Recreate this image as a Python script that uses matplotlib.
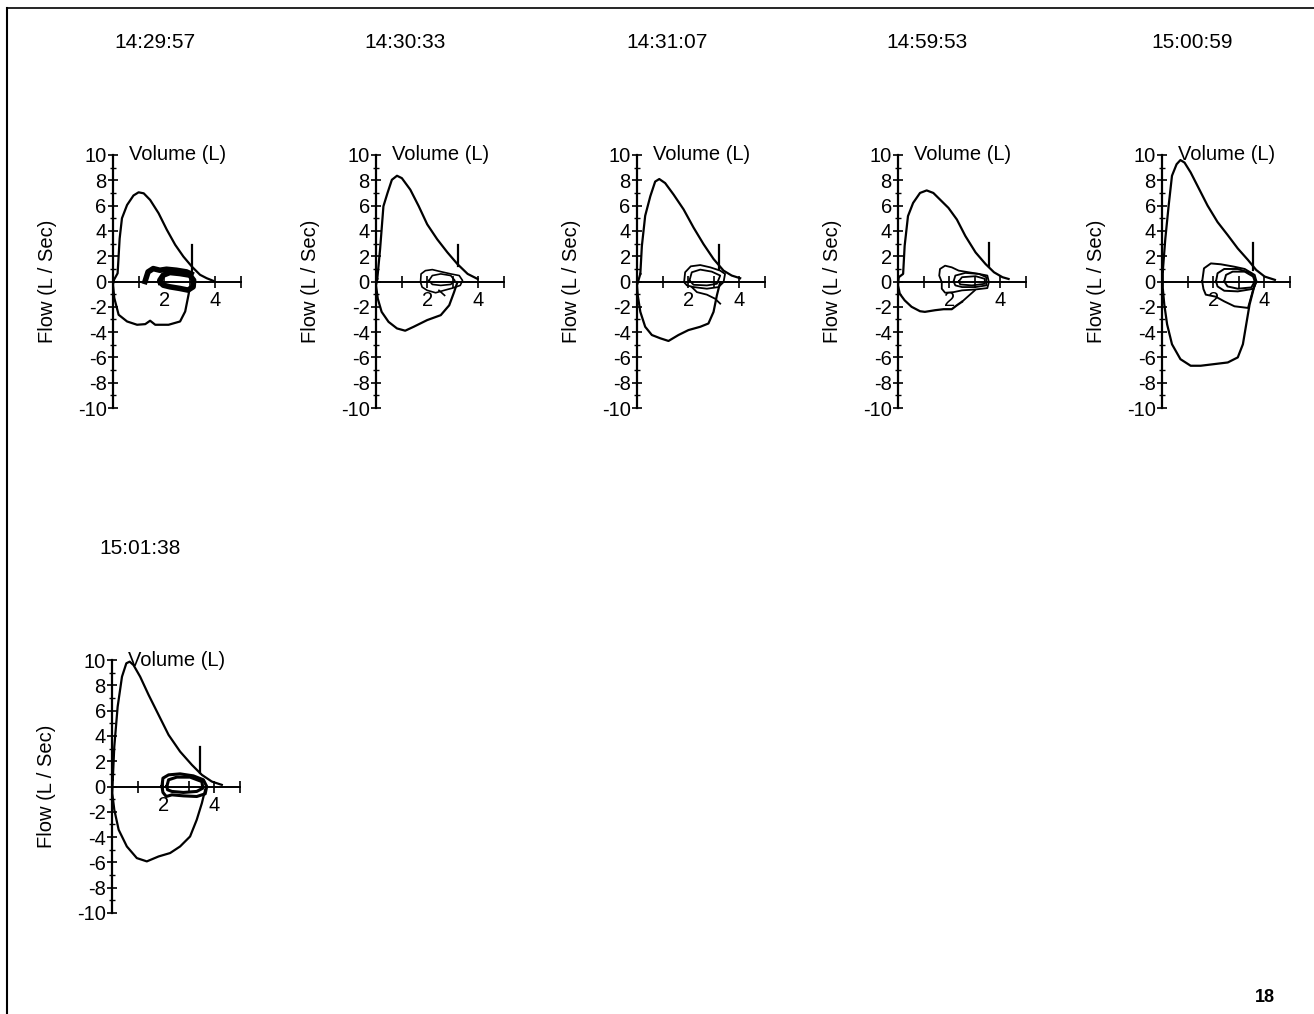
import matplotlib
matplotlib.use("Agg")
import matplotlib.pyplot as plt
import numpy as np

plt.rcParams['font.family'] = ['Liberation Sans', 'DejaVu Sans']
plt.rcParams['axes.unicode_minus'] = False

# time stamps of the six flow-volume loops
times = ["14:29:57", "14:30:33", "14:31:07", "14:59:53", "15:00:59", "15:01:38"]

# expiratory limb (volume L, flow L/s)
exp_1 = [(0.03, 0.1), (0.18, 0.65), (0.26, 3.4), (0.35, 5.0), (0.55, 6.05), (0.8, 6.8), (1.0, 7.05),
         (1.2, 6.97), (1.45, 6.45), (1.78, 5.4), (2.1, 4.1), (2.43, 2.9), (2.75, 1.97), (3.08, 1.18),
         (3.4, 0.53), (3.66, 0.26), (3.92, 0.05)]
exp_2 = [(0.05, 0.2), (0.16, 2.56), (0.29, 5.95), (0.45, 7.0), (0.62, 8.04), (0.82, 8.36), (1.01, 8.17),
         (1.34, 7.26), (1.67, 5.95), (2.0, 4.52), (2.39, 3.34), (2.79, 2.3), (3.18, 1.38), (3.58, 0.6),
         (3.97, 0.2)]
exp_3 = [(0.13, 0.6), (0.19, 2.8), (0.32, 5.2), (0.52, 6.74), (0.71, 7.9), (0.87, 8.1), (1.1, 7.78),
         (1.43, 6.87), (1.82, 5.7), (2.21, 4.26), (2.6, 2.95), (2.99, 1.78), (3.38, 0.86), (3.7, 0.47),
         (4.03, 0.26)]
exp_4 = [(0.03, 0.34), (0.2, 0.6), (0.26, 2.82), (0.39, 5.17), (0.59, 6.21), (0.86, 7.0), (1.12, 7.2),
         (1.38, 7.0), (1.64, 6.48), (1.97, 5.82), (2.3, 4.9), (2.63, 3.6), (3.03, 2.3), (3.42, 1.38),
         (3.75, 0.73), (4.08, 0.34), (4.32, 0.2)]
exp_5 = [(0.03, 0.78), (0.13, 3.39), (0.26, 6.0), (0.39, 8.36), (0.57, 9.27), (0.72, 9.6), (0.88, 9.4),
         (1.12, 8.62), (1.45, 7.31), (1.78, 6.0), (2.17, 4.7), (2.57, 3.66), (2.96, 2.61), (3.36, 1.7),
         (3.68, 0.91), (4.01, 0.39), (4.41, 0.13)]
exp_6 = [(0.03, 0.53), (0.09, 3.16), (0.22, 6.3), (0.39, 8.68), (0.56, 9.74), (0.69, 9.87), (0.84, 9.6),
         (1.1, 8.68), (1.43, 7.24), (1.82, 5.66), (2.21, 4.08), (2.66, 2.76), (3.12, 1.71), (3.51, 0.92),
         (3.9, 0.39), (4.29, 0.13)]

# inspiratory limb
insp_1 = [(3.0, -0.5), (2.95, -1.05), (2.82, -2.37), (2.62, -3.16), (2.17, -3.42), (1.65, -3.42),
          (1.45, -3.1), (1.26, -3.37), (0.94, -3.42), (0.55, -3.16), (0.22, -2.63), (0.05, -1.3),
          (0.0, -0.26), (0.03, 0.1)]
insp_2 = [(3.18, -0.05), (3.05, -0.84), (2.86, -1.88), (2.53, -2.66), (2.0, -3.05), (1.47, -3.58),
          (1.14, -3.89), (0.82, -3.71), (0.49, -3.19), (0.22, -2.4), (0.07, -1.36), (0.0, -0.31),
          (0.05, 0.2)]
insp_3 = [(3.25, -0.05), (3.12, -1.1), (2.99, -2.4), (2.79, -3.32), (2.47, -3.58), (2.01, -3.84),
          (1.62, -4.23), (1.23, -4.7), (0.91, -4.49), (0.58, -4.23), (0.32, -3.58), (0.13, -2.4),
          (0.03, -1.1), (0.0, -0.3), (0.13, 0.6)]
insp_4 = [(2.5, -1.6), (2.3, -1.88), (2.1, -2.19), (1.78, -2.19), (1.45, -2.27), (1.05, -2.4),
          (0.86, -2.35), (0.53, -2.0), (0.26, -1.49), (0.07, -0.97), (0.0, -0.3), (0.03, 0.34)]
insp_5 = [(3.62, -0.26), (3.42, -1.83), (3.29, -3.39), (3.16, -4.96), (2.96, -6.0), (2.57, -6.4),
          (2.04, -6.53), (1.51, -6.66), (1.12, -6.66), (0.72, -6.14), (0.39, -4.96), (0.2, -3.39),
          (0.09, -1.83), (0.03, -0.52), (0.03, 0.78)]
insp_6 = [(3.64, -0.26), (3.51, -1.32), (3.31, -2.63), (3.05, -3.95), (2.66, -4.74), (2.27, -5.26),
          (1.82, -5.53), (1.36, -5.92), (0.97, -5.66), (0.58, -4.74), (0.26, -3.42), (0.09, -1.84),
          (0.01, -0.53), (0.03, 0.53)]

# tidal breathing loops
tidal_1 = [
    [(1.25, 0.0), (1.37, 0.76), (1.57, 1.02), (1.83, 0.89), (2.09, 0.97), (2.48, 0.89), (2.87, 0.76), (3.05, 0.6)],
    [(1.85, -0.05), (1.83, 0.1), (1.96, 0.5), (2.22, 0.71), (2.61, 0.63), (3.0, 0.5), (3.15, 0.1), (3.13, -0.42),
     (2.93, -0.68), (2.61, -0.55), (2.22, -0.42), (1.96, -0.29), (1.85, -0.05)],
]
tidal_2 = [
    [(1.74, -0.05), (1.76, 0.6), (1.93, 0.86), (2.2, 0.94), (2.53, 0.78), (2.92, 0.6), (3.25, 0.47), (3.38, 0.08),
     (3.29, -0.31), (2.99, -0.52), (2.66, -0.7), (2.33, -0.89), (2.0, -0.7), (1.8, -0.44), (1.74, -0.05)],
    [(2.07, 0.08), (2.2, 0.47), (2.53, 0.6), (2.92, 0.47), (3.08, 0.08), (2.92, -0.23), (2.53, -0.31),
     (2.2, -0.23), (2.07, 0.08)],
    [(2.46, -0.7), (2.68, -1.1)],
]
tidal_3 = [
    [(1.84, -0.05), (1.88, 0.73), (2.1, 1.2), (2.47, 1.3), (2.86, 1.12), (3.25, 0.86), (3.44, 0.6), (3.38, -0.05),
     (3.18, -0.44), (2.73, -0.57), (2.21, -0.44), (1.95, -0.31), (1.84, -0.05)],
    [(2.05, 0.08), (2.14, 0.73), (2.47, 0.94), (2.92, 0.78), (3.25, 0.47), (3.12, -0.18), (2.73, -0.31),
     (2.21, -0.26), (2.05, 0.08)],
    [(2.14, -0.44), (2.34, -0.84), (2.73, -1.04), (3.05, -1.36), (3.25, -1.75)],
]
tidal_4 = [
    [(1.71, -0.05), (1.61, 0.47), (1.64, 0.99), (1.84, 1.25), (2.1, 1.12), (2.37, 0.86), (2.76, 0.73), (3.16, 0.6),
     (3.49, 0.47), (3.55, -0.05), (3.49, -0.52), (3.03, -0.63), (2.5, -0.7), (2.17, -0.84), (1.84, -0.89),
     (1.71, -0.57), (1.71, -0.05)],
    [(2.17, 0.0), (2.24, 0.47), (2.63, 0.68), (3.16, 0.6), (3.45, 0.34), (3.45, -0.31), (3.03, -0.44),
     (2.5, -0.44), (2.24, -0.31), (2.17, 0.0)],
    [(2.37, 0.0), (2.5, 0.34), (3.03, 0.42), (3.39, 0.21), (3.39, -0.18), (2.89, -0.31), (2.43, -0.23), (2.37, 0.0)],
    [(3.0, -0.7), (2.5, -1.6)],
]
tidal_5 = [
    [(1.57, 0.0), (1.64, 1.04), (1.91, 1.43), (2.3, 1.36), (2.82, 1.17), (3.23, 0.99), (3.62, 0.52), (3.69, 0.0),
     (3.56, -0.65), (3.36, -2.09), (2.83, -1.96), (2.43, -1.57), (2.1, -1.2), (1.71, -1.04), (1.62, -0.6),
     (1.57, 0.0)],
    [(2.11, 0.0), (2.17, 0.65), (2.43, 0.99), (2.96, 0.99), (3.49, 0.65), (3.69, 0.0), (3.56, -0.58),
     (2.96, -0.78), (2.43, -0.73), (2.17, -0.39), (2.11, 0.0)],
    [(2.43, 0.0), (2.5, 0.52), (2.76, 0.78), (3.23, 0.78), (3.56, 0.39), (3.62, 0.0), (3.49, -0.47),
     (2.96, -0.57), (2.56, -0.39), (2.43, 0.0)],
]
tidal_6 = [
    [(1.95, 0.0), (1.99, 0.66), (2.21, 0.92), (2.66, 1.0), (3.18, 0.84), (3.57, 0.53), (3.7, 0.0), (3.64, -0.58),
     (3.31, -0.79), (2.79, -0.74), (2.34, -0.66), (2.12, -0.79), (1.99, -0.47), (1.95, 0.0)],
    [(2.14, 0.0), (2.21, 0.53), (2.53, 0.74), (3.05, 0.74), (3.51, 0.39), (3.55, -0.13), (3.31, -0.39),
     (2.79, -0.47), (2.34, -0.39), (2.17, -0.26), (2.14, 0.0)],
]

# vertical marker line (volume, flow bottom, flow top)
marker_1 = (3.1, 0.8, 2.9)
marker_2 = (3.21, 1.25, 2.87)
marker_3 = (3.22, 1.0, 2.87)
marker_4 = (3.55, 1.25, 3.08)
marker_5 = (3.55, 0.91, 3.08)
marker_6 = (3.42, 1.05, 3.1)

tidal_widths = [4.0, 1.2, 1.3, 1.3, 1.4, 2.2]

panels = [
    (exp_1, insp_1, tidal_1, marker_1),
    (exp_2, insp_2, tidal_2, marker_2),
    (exp_3, insp_3, tidal_3, marker_3),
    (exp_4, insp_4, tidal_4, marker_4),
    (exp_5, insp_5, tidal_5, marker_5),
    (exp_6, insp_6, tidal_6, marker_6),
]

W, H = 1314, 1014
fig = plt.figure(figsize=(W / 100, H / 100), dpi=100)

# pixel layout of each panel: y-axis x, top of axis, title centre x, title y
axis_x = [113, 376, 637, 898, 1162, 112]
axis_top = [155, 155, 155, 155, 155, 660]
title_x = [155, 405, 667, 927, 1192, 140]
title_y = [42, 42, 42, 42, 42, 548]
ax_w, ax_h = 128, 253

fs = 14.5
for i, (exp, insp, tidal, marker) in enumerate(panels):
    ax = fig.add_axes([axis_x[i] / W, 1 - (axis_top[i] + ax_h) / H, ax_w / W, ax_h / H])
    ev, ef = zip(*exp)
    iv, iflow = zip(*insp)
    ax.plot(ev, ef, color='black', lw=1.6)
    ax.plot(iv, iflow, color='black', lw=1.6)
    for loop in tidal:
        lv, lf = zip(*loop)
        ax.plot(lv, lf, color='black', lw=tidal_widths[i], solid_joinstyle='round')
    mv, mb, mt = marker
    ax.plot([mv, mv], [mb, mt], color='black', lw=1.6)

    ax.set_xlim(0, 5)
    ax.set_ylim(-10, 10)
    ax.spines['right'].set_visible(False)
    ax.spines['top'].set_visible(False)
    ax.spines['bottom'].set_position(('data', 0))
    ax.spines['left'].set_linewidth(1.6)
    ax.spines['bottom'].set_linewidth(1.4)
    ax.set_yticks(np.arange(-10, 11, 2))
    ax.set_yticks(np.arange(-9, 10, 2), minor=True)
    ax.set_xticks([1, 2, 3, 4, 5])
    ax.set_xticklabels(['', '2', '', '4', ''])
    ax.tick_params(axis='y', which='major', direction='inout', length=7, width=1.2, pad=1, labelsize=fs)
    ax.tick_params(axis='y', which='minor', direction='inout', length=5, width=1.0)
    ax.tick_params(axis='x', which='major', direction='inout', length=8, width=1.2, pad=3, labelsize=fs)
    ax.set_ylabel("Flow (L / Sec)", fontsize=fs)
    ax.yaxis.set_label_coords(-56 / ax_w, 0.5)
    ax.text(16 / ax_w, 1.0, "Volume (L)", transform=ax.transAxes, fontsize=fs, va='center', ha='left')
    ax.patch.set_alpha(0)

    fig.text(title_x[i] / W, 1 - title_y[i] / H, times[i], fontsize=15, ha='center', va='center')

# page frame (left and top edges)
fig.add_artist(plt.Line2D([7 / W, 7 / W], [0, 1 - 8 / H], color='black', lw=1.5))
fig.add_artist(plt.Line2D([7 / W, 1], [1 - 8 / H, 1 - 8 / H], color='black', lw=1.2))

fig.text(1265 / W, 1 - 998 / H, "18", fontsize=13, fontweight='bold', ha='center', va='center')

fig.savefig("out.png", dpi=100)
